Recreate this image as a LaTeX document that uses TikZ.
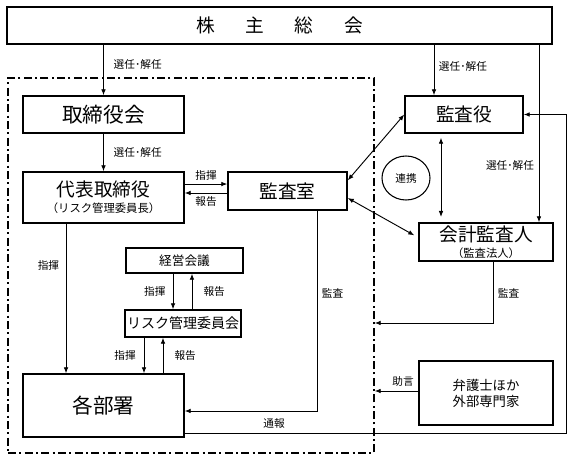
\documentclass[tikz,border=0pt]{standalone}
\usepackage{fontspec}
\newfontfamily\jpfont{Noto Sans CJK JP}
\usetikzlibrary{positioning,calc,arrows.meta,shapes.geometric}

\begin{document}
\begin{tikzpicture}[
        x=0.75pt, y=-0.75pt,
        >={Latex[length=4.5pt,width=3.5pt]},
        box/.style={draw,line width=1.1pt,inner sep=0pt,align=center},
        huge_text/.style={font=\jpfont\fontsize{15.5}{17}\selectfont},
        big_text/.style={font=\jpfont\fontsize{14}{15}\selectfont},
        mid_text/.style={font=\jpfont\fontsize{10}{12}\selectfont},
        small_text/.style={font=\jpfont\fontsize{8}{10}\selectfont},
        link/.style={line width=0.7pt},
        group_line/.style={draw,line width=1.1pt,dash pattern=on 6pt off 2.5pt on 1.5pt off 2.5pt}
    ]
    \useasboundingbox (0,0) rectangle (573,461);

    % Dash-dot frame round the company side
    \node[group_line,inner sep=0pt,minimum width=274.5pt,minimum height=281.25pt] (grp) at (191,265.5) {};

    % Boxes
    \node[box,big_text,minimum width=408.75pt,minimum height=27.75pt] (soukai) at (279.5,25.5)
        {株\hspace{23pt}主\hspace{23pt}総\hspace{23pt}会};
    \node[box,huge_text,minimum width=120.75pt,minimum height=27.75pt] (torishimari) at (103.5,114.5) {取締役会};
    \node[box,big_text,minimum width=120.75pt,minimum height=38.25pt] (daihyo) at (103.5,197.5)
        {代表取締役\\[-3pt]{\fontsize{8.5}{10}\selectfont （リスク管理委員長）}};
    \node[box,big_text,minimum width=89.25pt,minimum height=28.5pt] (kansashitsu) at (287.5,191) {監査室};
    \node[box,big_text,minimum width=88.5pt,minimum height=27.75pt] (kansayaku) at (464,114.5) {監査役};
    \node[box,big_text,minimum width=100.5pt,minimum height=28.5pt] (kaikei) at (486,242)
        {会計監査人\\[-3pt]{\fontsize{8.5}{10}\selectfont （監査法人）}};
    \node[box,font=\jpfont\fontsize{9.5}{11}\selectfont,minimum width=87.75pt,minimum height=18.75pt] (keiei) at (184.5,260.5) {経営会議};
    \node[box,font=\jpfont\fontsize{10.5}{12}\selectfont,minimum width=87pt,minimum height=20.25pt] (risk) at (183,323.5) {リスク管理委員会};
    \node[box,huge_text,minimum width=120.75pt,minimum height=47.25pt] (kakubusho) at (103.5,405.5) {各部署};
    \node[box,mid_text,minimum width=100.5pt,minimum height=48pt] (bengoshi) at (486,393) {弁護士ほか\\外部専門家};
    \node[ellipse,draw,line width=0.8pt,small_text,minimum width=36pt,minimum height=33pt,inner sep=0pt] (renkei) at (406,178) {連携};

    % Appointment from the general meeting
    \draw[link,->] (torishimari.north |- soukai.south) -- (torishimari.north)
        node[pos=0.4,right=4pt,small_text] {選任･解任};
    \draw[link,->] (torishimari.south) -- (daihyo.north)
        node[midway,right=4pt,small_text] {選任･解任};
    \draw[link,->] ([xshift=-22.5pt]kansayaku.north |- soukai.south) -- ([xshift=-22.5pt]kansayaku.north)
        node[pos=0.42,right,small_text] {選任･解任};
    \draw[link,->] ([xshift=194.6pt]soukai.south) -- ([xshift=194.6pt]soukai.south |- kaikei.north)
        node[pos=0.68,left,small_text] {選任･解任};

    % Representative director and internal audit
    \draw[link,->] ([yshift=10.1pt]daihyo.east) -- ([yshift=10.1pt]daihyo.east -| kansashitsu.west)
        node[midway,above=-1pt,small_text] {指揮};
    \draw[link,->] ([yshift=3.4pt]daihyo.east -| kansashitsu.west) -- ([yshift=3.4pt]daihyo.east)
        node[midway,below=-1pt,small_text] {報告};

    % Cooperation among the auditors
    \draw[link,<->] ([yshift=8pt]kansashitsu.east) -- (kansayaku.west);
    \draw[link,<->] ([yshift=-5.25pt]kansashitsu.east) -- ([xshift=-3pt,yshift=5pt]kaikei.west);
    \draw[link,<->,shorten <=3pt,shorten >=4pt] ([xshift=-17.25pt]kansayaku.south)
        -- ([xshift=-17.25pt]kansayaku.south |- kaikei.north);

    % Command lines
    \draw[link,->] ([xshift=-28.1pt]daihyo.south) -- ([xshift=-28.1pt]daihyo.south |- kakubusho.north)
        node[pos=0.28,left=1.5pt,small_text] {指揮};
    \draw[link,->] ([xshift=-8.6pt]keiei.south) -- ([xshift=-8.6pt]keiei.south |- risk.north)
        node[midway,left=2pt,small_text] {指揮};
    \draw[link,->] ([xshift=5.6pt]keiei.south |- risk.north) -- ([xshift=5.6pt]keiei.south)
        node[midway,right=5pt,small_text] {報告};
    \draw[link,->] ([xshift=-29.25pt]risk.south) -- ([xshift=-29.25pt]risk.south |- kakubusho.north)
        node[midway,left=2.5pt,small_text] {指揮};
    \draw[link,->] ([xshift=-15pt]risk.south |- kakubusho.north) -- ([xshift=-15pt]risk.south)
        node[midway,right=5pt,small_text] {報告};

    % Audits
    \draw[link,->] ([xshift=22.1pt]kansashitsu.south) |- node[pos=0.206,right,small_text] {監査}
        ([yshift=-4.1pt]kakubusho.east);
    \draw[link,->] ([xshift=5.25pt]kaikei.south) |- node[pos=0.26,right,small_text] {監査}
        ([yshift=-43.1pt]grp.east);

    % Outside advice
    \draw[link,->] ([yshift=1.5pt]bengoshi.west) -- ([yshift=1.5pt]bengoshi.west -| grp.east)
        node[pos=0.35,above,small_text] {助言};

    % Whistle-blowing line
    \draw[link,->] ([yshift=-20.6pt]kakubusho.east) -| node[pos=0.117,above,small_text] {通報}
        ($(kansayaku.east)+(43,0)$) -- (kansayaku.east);

\end{tikzpicture}
\end{document}
